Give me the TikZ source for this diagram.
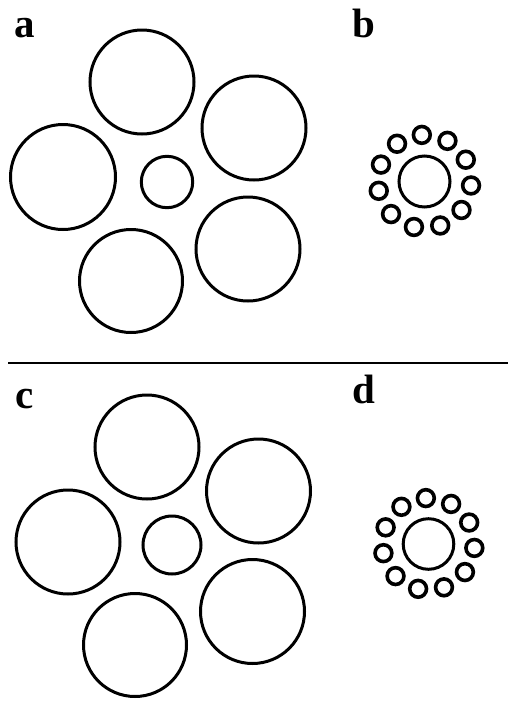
\documentclass[tikz,border=0pt]{standalone}
\usepackage{fontspec}
\setmainfont{Liberation Serif}
\usepackage{tikz}
\usetikzlibrary{calc}

\begin{document}
\begin{tikzpicture}[x=1pt, y=-1pt,
    bigring/.style={draw=black, line width=3pt},
    testring/.style={draw=black, line width=3pt},
    tinyring/.style={draw=black, line width=3.6pt},
    panellabel/.style={anchor=base west, inner sep=0pt, font=\fontsize{41}{41}\selectfont\bfseries},
    divider/.style={draw=black, line width=2pt}]

    \useasboundingbox (0,0) rectangle (510,702);

    % panel labels
    \node [panellabel] (la) at (14,37) {a};
    \node [panellabel] (lb) at (352,37) {b};
    \node [panellabel] (lc) at (15,408) {c};
    \node [panellabel] (ld) at (352,403) {d};

    % panel a: large surround
    \draw [bigring] (142,82) circle (52);
    \draw [bigring] (254,128) circle (52);
    \draw [bigring] (63,177) circle (52.5);
    \draw [bigring] (248,249) circle (52);
    \draw [bigring] (131,281) circle (51.5);
    \draw [testring] (167,182) circle (25.7);

    % panel b: small surround
    \draw [testring] (424.5,181.5) circle (25.5);
    \foreach \k in {0,...,10}
        \draw [tinyring] ($(424.5,181.5)+({93.3-32.727*\k}:{46.7} and {-46.7})$) circle (8.4);

    % divider
    \draw [divider] (8,362.5) -- (508,362.5);

    % panel c: large surround
    \draw [bigring] (147,447) circle (52);
    \draw [bigring] (258.5,491) circle (52);
    \draw [bigring] (68,542) circle (52);
    \draw [bigring] (252.5,611.5) circle (52);
    \draw [bigring] (135,645) circle (51.5);
    \draw [testring] (172,545) circle (29);

    % panel d: small surround
    \draw [testring] (428.5,544) circle (25.3);
    \foreach \k in {0,...,10}
        \draw [tinyring] ($(428.5,544)+({93.3-32.727*\k}:{46} and {-46})$) circle (8.4);

\end{tikzpicture}
\end{document}
